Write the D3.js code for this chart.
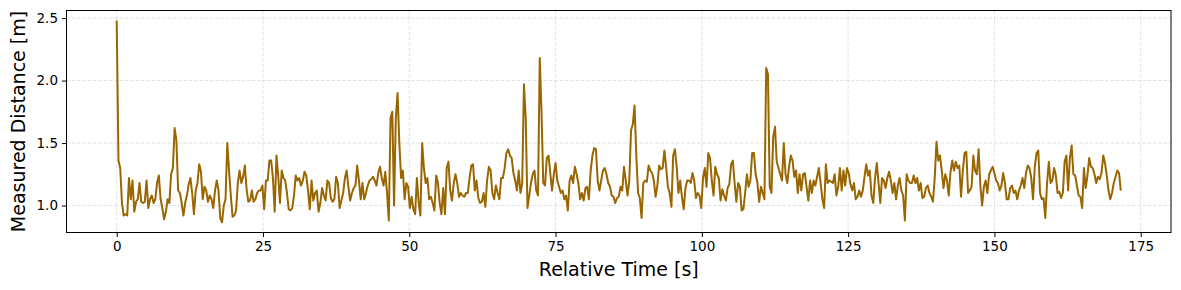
<!DOCTYPE html>
<html>
<head>
<meta charset="utf-8">
<script src="https://cdn.jsdelivr.net/npm/d3@7"></script>
<style>
  html, body { margin: 0; padding: 0; background: #fff; }
  svg { display: block; font-family: "DejaVu Sans", sans-serif; }
</style>
</head>
<body>
<svg id="chart" width="1181" height="290"></svg>
<script>
// ---- data ----
const sampleInterval = 0.3; // seconds between samples
const distance = [
  2.48,1.36,1.30,1.02,0.92,0.93,0.92,1.22,1.05,1.20,
  0.95,1.03,1.05,1.18,1.03,1.02,1.03,1.20,0.98,1.05,
  1.08,1.02,1.05,1.18,1.24,1.05,0.98,0.89,0.95,1.05,
  1.02,1.25,1.30,1.62,1.52,1.12,1.10,1.02,0.92,1.02,
  1.08,1.17,1.22,1.10,0.93,1.12,1.18,1.33,1.27,1.05,
  1.15,1.12,1.03,1.08,
  1.05,0.98,1.12,1.20,1.12,0.90,0.865,1.00,1.05,1.50,
  1.28,1.08,0.91,0.92,0.96,1.18,1.28,1.18,1.23,1.32,
  1.13,1.03,1.04,1.12,1.03,1.05,1.10,1.12,1.12,1.16,
  0.97,1.20,1.20,1.36,1.36,1.22,0.95,1.40,1.24,1.02,
  1.28,1.22,1.20,1.10,0.97,0.96,0.98,1.08,1.24,1.20,
  1.22,1.16,1.20,1.27,1.24,1.12,0.97,
  1.20,1.04,1.10,1.12,0.95,1.02,1.14,1.08,1.04,1.20,
  1.18,1.06,1.03,1.05,1.23,1.18,0.98,1.04,1.10,1.22,
  1.28,1.15,1.04,1.10,1.14,1.16,1.32,1.20,1.05,1.18,
  1.05,1.10,1.16,1.20,1.21,1.23,1.20,1.16,1.26,1.31,
  1.22,1.16,1.27,1.10,0.88,1.70,1.75,1.00,1.70,1.90,
  1.50,1.22,1.28,1.05,1.18,1.15,0.98,
  1.07,0.97,0.93,1.22,1.03,0.92,1.50,1.30,1.18,1.22,
  1.05,1.07,1.02,0.96,1.24,1.18,1.02,0.93,1.14,0.93,
  1.30,1.35,1.12,1.04,1.18,1.25,1.18,1.07,1.10,1.08,
  1.07,1.10,1.10,1.22,1.32,1.33,1.12,1.20,1.06,1.02,
  1.03,1.10,0.99,1.20,1.31,1.28,1.10,1.05,1.16,1.10,
  1.05,1.22,1.22,1.30,1.42,1.45,1.40,
  1.38,1.26,1.20,1.12,1.28,1.10,1.18,1.97,1.70,0.98,
  1.08,1.18,1.25,1.28,1.12,1.08,2.18,1.75,1.18,1.16,
  1.38,1.40,1.26,1.12,1.25,1.34,1.20,1.15,1.10,1.12,
  1.05,1.08,0.96,1.20,1.24,1.18,1.31,1.25,1.18,1.05,
  1.10,1.04,1.14,1.15,1.05,1.28,1.40,1.46,1.45,1.20,
  1.12,1.20,1.28,1.30,1.25,1.18,1.15,
  1.08,1.07,1.02,1.06,1.07,1.15,1.12,1.31,1.20,1.08,
  1.20,1.60,1.65,1.80,1.40,1.10,1.06,0.90,1.18,1.20,
  1.19,1.32,1.28,1.26,1.20,1.07,1.16,1.32,1.29,1.30,
  1.44,1.31,1.15,1.10,0.99,1.40,1.45,1.31,1.10,1.20,
  1.07,0.97,1.14,1.20,1.20,1.18,1.26,1.20,1.06,1.10,
  1.08,0.98,1.22,1.30,1.15,1.42,1.38,
  1.20,1.08,1.31,1.25,1.22,1.04,1.13,1.08,1.04,1.14,
  1.17,1.33,1.36,1.18,1.03,1.18,1.15,0.96,0.97,1.10,
  1.25,1.15,1.20,1.42,1.42,1.25,1.18,1.03,1.15,1.10,
  1.05,2.10,2.05,1.15,1.10,1.55,1.63,1.35,1.30,1.25,
  1.20,1.50,1.25,1.18,1.31,1.40,1.36,1.23,1.28,1.10,
  1.25,1.12,1.25,1.26,1.15,1.04,1.20,
  1.10,1.20,1.16,1.23,1.30,1.18,1.05,0.98,1.33,1.18,
  1.20,1.19,1.18,1.25,1.08,1.15,1.30,1.12,1.28,1.16,
  1.30,1.26,1.17,1.12,1.18,1.05,1.07,1.12,1.07,1.12,
  1.23,1.33,1.24,1.28,1.08,1.02,1.22,1.34,1.18,1.02,
  1.22,1.20,1.14,1.22,1.27,1.20,1.10,1.18,1.05,1.16,
  1.22,1.12,1.08,0.88,1.25,1.20,1.18,
  1.18,1.24,1.18,1.22,1.12,1.18,1.06,1.07,1.14,1.16,
  1.10,1.07,1.03,1.22,1.51,1.36,1.40,1.28,1.14,1.25,
  1.20,1.08,1.27,1.36,1.28,1.35,1.30,1.32,1.07,1.28,
  1.42,1.43,1.10,1.12,1.15,1.40,1.28,1.25,1.45,1.16,
  1.00,1.15,1.20,1.10,1.25,1.28,1.31,1.26,1.20,1.18,
  1.12,1.16,1.26,1.18,1.05,1.05,1.14,
  1.16,1.10,1.12,1.05,1.12,1.16,1.22,1.14,1.26,1.32,
  1.30,1.22,1.05,1.31,1.42,1.44,1.10,1.05,1.06,0.90,
  1.18,1.35,1.18,1.20,1.30,1.24,1.10,1.11,1.06,1.10,
  1.35,1.40,1.12,1.38,1.48,1.25,1.24,1.16,1.08,1.07,
  0.98,1.30,1.14,1.24,1.38,1.31,1.30,1.25,1.18,1.23,
  1.21,1.26,1.40,1.34,1.24,1.12,1.05,1.10,1.18,1.23,
  1.28,1.26,1.12
];
const xTicks = [0, 25, 50, 75, 100, 125, 150, 175];
const yTicks = [1.0, 1.5, 2.0, 2.5];
const xLabel = "Relative Time [s]";
const yLabel = "Measured Distance [m]";

// timestamps of the samples
const time = distance.map((_, i) => i * sampleInterval);
const points = time.map((t, i) => ({ t, v: distance[i] }));

// ---- layout ----
const plot = { left: 66.5, right: 1171, top: 10.5, bottom: 232.5 };
const svg = d3.select("#chart");

const [tMin, tMax] = d3.extent(time);
const [vMin, vMax] = d3.extent(distance);
const tPad = (tMax - tMin) * 0.05, vPad = (vMax - vMin) * 0.05;

const x = d3.scaleLinear().domain([tMin - tPad, tMax + tPad]).range([plot.left, plot.right]);
const y = d3.scaleLinear().domain([vMin - vPad, vMax + vPad]).range([plot.bottom, plot.top]);

// grid
const grid = svg.append("g").attr("stroke", "#b0b0b0").attr("stroke-opacity", 0.6)
  .attr("stroke-width", 0.6).attr("stroke-dasharray", "3.7,1.6");
grid.selectAll(".vg").data(xTicks).join("line")
  .attr("x1", d => x(d)).attr("x2", d => x(d))
  .attr("y1", plot.top).attr("y2", plot.bottom);
grid.selectAll(".hg").data(yTicks).join("line")
  .attr("x1", plot.left).attr("x2", plot.right)
  .attr("y1", d => y(d)).attr("y2", d => y(d));

// line
const line = d3.line().x(d => x(d.t)).y(d => y(d.v));
svg.append("path").datum(points)
  .attr("fill", "none").attr("stroke", "#996600")
  .attr("stroke-width", 2).attr("stroke-linejoin", "round")
  .attr("d", line);

// frame
svg.append("rect")
  .attr("x", plot.left).attr("y", plot.top)
  .attr("width", plot.right - plot.left).attr("height", plot.bottom - plot.top)
  .attr("fill", "none").attr("stroke", "#000").attr("stroke-width", 1);

// axes
const xAxis = svg.append("g").attr("transform", `translate(0,${plot.bottom})`)
  .call(d3.axisBottom(x).tickValues(xTicks).tickFormat(d3.format("d")).tickSize(4.5).tickPadding(4));
const yAxis = svg.append("g").attr("transform", `translate(${plot.left},0)`)
  .call(d3.axisLeft(y).tickValues(yTicks).tickFormat(d3.format(".1f")).tickSize(4.5).tickPadding(4));
[xAxis, yAxis].forEach(a => {
  a.select(".domain").remove();
  a.selectAll(".tick line").attr("stroke", "#000").attr("stroke-width", 1);
  a.selectAll(".tick text").attr("fill", "#000")
    .style("font-family", "'DejaVu Sans', sans-serif").style("font-size", "13.5px");
});

// axis labels
svg.append("text")
  .attr("x", (plot.left + plot.right) / 2).attr("y", 276)
  .attr("text-anchor", "middle")
  .style("font-size", "19px").attr("fill", "#000")
  .text(xLabel);
svg.append("text")
  .attr("transform", `translate(25,${(plot.top + plot.bottom) / 2}) rotate(-90)`)
  .attr("text-anchor", "middle")
  .style("font-size", "19px").attr("fill", "#000")
  .text(yLabel);
</script>
</body>
</html>
